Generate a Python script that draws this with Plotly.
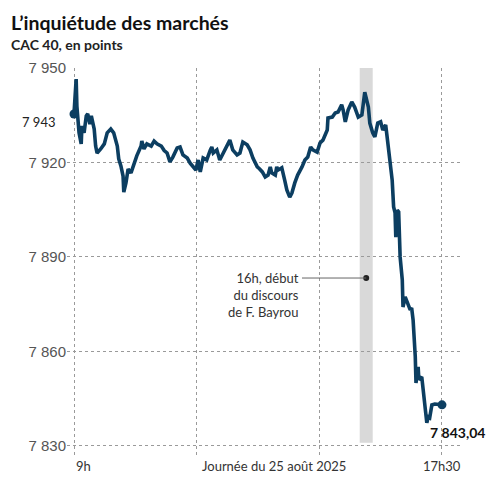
import pandas as pd
import plotly.graph_objects as go

DAY = "2025-08-25"

# CAC 40 intraday
times = [
    "09:00", "09:01", "09:02", "09:03", "09:04", "09:07", "09:10", "09:11", "09:14", "09:17",
    "09:19", "09:22", "09:24", "09:28", "09:30", "09:32", "09:37", "09:42", "09:46", "09:51",
    "09:55", "10:00", "10:02", "10:05", "10:08", "10:09", "10:12", "10:15", "10:19", "10:23",
    "10:27", "10:33", "10:34", "10:37", "10:41", "10:47", "10:51", "10:55", "11:01", "11:05",
    "11:09", "11:13", "11:17", "11:23", "11:27", "11:31", "11:37", "11:41", "11:45", "11:49",
    "11:52", "11:55", "11:59", "12:04", "12:09", "12:11", "12:13", "12:18", "12:22", "12:27",
    "12:32", "12:36", "12:40", "12:46", "12:50", "12:54", "13:00", "13:04", "13:08", "13:14",
    "13:17", "13:21", "13:25", "13:29", "13:32", "13:34", "13:39", "13:41", "13:43", "13:48",
    "13:52", "13:55", "13:59", "14:02", "14:06", "14:10", "14:16", "14:20", "14:24", "14:28",
    "14:31", "14:37", "14:41", "14:45", "14:51", "14:52", "14:58", "15:02", "15:06", "15:11",
    "15:13", "15:16", "15:20", "15:25", "15:29", "15:34", "15:39", "15:43", "15:48", "15:50",
    "15:54", "15:57", "16:01", "16:05", "16:08", "16:12", "16:14", "16:17", "16:19", "16:21",
    "16:23", "16:25", "16:26", "16:28", "16:30", "16:32", "16:35", "16:36", "16:39", "16:41",
    "16:46", "16:48", "16:50", "16:53", "16:54", "16:57", "16:58", "17:02", "17:05", "17:09",
    "17:11", "17:13", "17:16", "17:20", "17:30",
]
values = [
    7935.4, 7939.5, 7941.0, 7946.5, 7937.9, 7929.4, 7925.9, 7931.6, 7929.4, 7934.8,
    7935.4, 7932.2, 7934.8, 7930.6, 7925.2, 7923.0, 7924.3, 7925.9, 7929.4, 7930.6,
    7929.4, 7925.2, 7921.1, 7918.9, 7915.7, 7910.6, 7913.5, 7917.9, 7916.7, 7919.8,
    7922.1, 7925.2, 7926.8, 7924.3, 7925.9, 7925.2, 7926.8, 7925.9, 7925.2, 7923.8,
    7923.0, 7920.2, 7921.7, 7924.6, 7924.9, 7922.4, 7921.4, 7919.8, 7918.6, 7917.6,
    7920.8, 7917.0, 7921.4, 7920.8, 7924.0, 7924.9, 7923.0, 7924.0, 7920.8, 7923.0,
    7924.9, 7927.1, 7924.0, 7922.4, 7923.0, 7926.5, 7925.6, 7924.0, 7921.4, 7918.6,
    7918.0, 7917.0, 7915.4, 7916.0, 7918.6, 7916.7, 7916.0, 7918.6, 7917.6, 7918.3,
    7914.4, 7911.3, 7909.0, 7910.3, 7913.5, 7916.0, 7918.6, 7920.8, 7921.7, 7924.9,
    7924.0, 7923.3, 7926.2, 7927.1, 7930.3, 7934.1, 7934.4, 7935.7, 7936.0, 7938.3,
    7936.7, 7932.9, 7936.7, 7939.2, 7937.6, 7934.4, 7935.1, 7942.3, 7937.6, 7932.5,
    7929.4, 7928.1, 7932.5, 7932.9, 7930.3, 7931.9, 7928.1, 7923.0, 7919.8, 7914.4,
    7905.9, 7904.0, 7896.3, 7904.9, 7904.3, 7890.0, 7882.7, 7874.1, 7877.3, 7876.3,
    7873.2, 7873.8, 7870.0, 7858.3, 7850.0, 7855.1, 7851.0, 7851.9, 7845.6, 7837.3,
    7839.2, 7838.9, 7843.0, 7843.3, 7843.04,
]

y_ticks = [7830, 7860, 7890, 7920, 7950]
y_ticktext = ["7 830", "7 860", "7 890", "7 920", "7 950"]
x_grid = ["09:00", "11:50", "14:40", "17:30"]

title = "L’inquiétude des marchés"
subtitle = "CAC 40, en points"
open_label = "7 943"
close_label = "7 843,04"

# speech window + annotation
band_start, band_end = "15:36", "15:54"
note_time, note_start, note_value = "15:45", "14:16", 7883.3
note_text = "16h, début<br>du discours<br>de F. Bayrou"

def ts(t):
    return pd.Timestamp(f"{DAY} {t}")

x = [ts(t) for t in times]
LINE = "#0c3e61"
FONT = "Lato"

fig = go.Figure()

fig.add_shape(type="rect", x0=ts(band_start), x1=ts(band_end), y0=7831, y1=7950,
              fillcolor="#d9d9d9", line_width=0, layer="below")
fig.add_shape(type="line", x0=ts(note_start), x1=ts(note_time), y0=note_value, y1=note_value,
              line=dict(color="#666666", width=1))

fig.add_trace(go.Scatter(x=x, y=values, mode="lines",
                         line=dict(color=LINE, width=3.6), hoverinfo="skip"))
fig.add_trace(go.Scatter(x=[x[0], x[-1]], y=[values[0], values[-1]], mode="markers",
                         marker=dict(color=LINE, size=9), hoverinfo="skip"))
fig.add_trace(go.Scatter(x=[ts(note_time)], y=[note_value], mode="markers",
                         marker=dict(color="#222222", size=6), hoverinfo="skip"))

# the page body adds an 8px margin, so the figure is drawn 8px smaller
fig.update_layout(
    width=487, height=472,
    margin=dict(l=59, r=35, t=60, b=25),
    paper_bgcolor="white", plot_bgcolor="white",
    showlegend=False,
    font=dict(family=FONT, color="#333333"),
)

fig.update_xaxes(
    range=[pd.Timestamp(f"{DAY} 08:50:18"), pd.Timestamp(f"{DAY} 17:55")],
    tickvals=[ts(t) for t in x_grid], showticklabels=False,
    showgrid=True, gridcolor="#9a9a9a", griddash="dot", gridwidth=1,
    zeroline=False, showline=False, ticks="",
)
fig.update_yaxes(
    range=[7827.1, 7950], tickvals=y_ticks, ticktext=y_ticktext,
    showgrid=True, gridcolor="#9a9a9a", griddash="dot", gridwidth=1,
    zeroline=False, showline=False, ticks="",
    tickfont=dict(family="Liberation Sans", size=15, color="#555555"),
)

# title + subtitle in one block so the lines share one box
header = (f"<b><span style='font-size:19.5px;color:#111111'>{title}</span></b><br>"
          f"<b><span style='font-size:14px;color:#222222'>{subtitle}</span></b>")

ann = [
    dict(text=header, xref="paper", yref="paper", x=-0.148, y=1.1525,
         xanchor="left", yanchor="top", align="left", font=dict(size=15.5, color="#222222")),
    dict(text=open_label, xref="paper", yref="y", x=-0.022, y=7932.9,
         xanchor="right", yanchor="middle", font=dict(size=13, color="#222222")),
    dict(text=f"<b>{close_label}</b>", xref="x", yref="y", x=x[-1], y=values[-1],
         xanchor="left", yanchor="middle", xshift=-14, yshift=-28,
         font=dict(size=14, color="#111111")),
    dict(text=note_text, xref="x", yref="y", x=ts(note_start), y=note_value,
         xanchor="right", yanchor="top", align="right", xshift=-1, yshift=10,
         font=dict(size=13, color="#333333")),
    dict(text="9h", xref="x", yref="paper", x=ts("09:00"), y=-0.0284,
         xanchor="left", yanchor="middle", font=dict(size=13, color="#333333")),
    dict(text="Journée du 25 août 2025", xref="x", yref="paper", x=ts("13:37"), y=-0.0284,
         xanchor="center", yanchor="middle", font=dict(size=13, color="#333333")),
    dict(text="17h30", xref="x", yref="paper", x=ts("17:30"), y=-0.0284,
         xanchor="center", yanchor="middle", font=dict(size=13, color="#333333")),
]
for a in ann:
    a["showarrow"] = False
    fig.add_annotation(**a)

fig.write_html("out.html")
